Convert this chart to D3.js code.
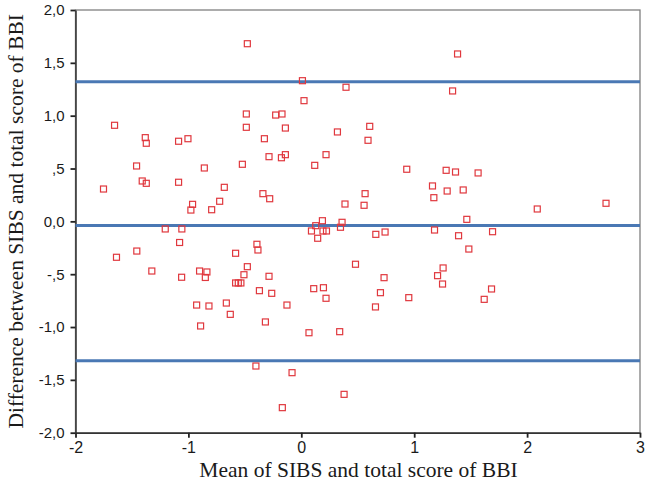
<!DOCTYPE html>
<html>
<head>
<meta charset="utf-8">
<script src="https://cdn.jsdelivr.net/npm/d3@7"></script>
<style>
  html, body { margin: 0; padding: 0; background: #fff; }
  svg { display: block; }
</style>
</head>
<body>
<svg id="chart" width="645" height="488"></svg>
<script>
// ---- data ----
const meanValues = [
  -1.654, -1.382, -1.373, -1.087, -1.004, -1.459, -0.859, -1.752, -1.409, -1.373,
  -1.087, -0.963, -0.978, -0.794, -0.723, -1.205, -1.058, -1.078, -1.457, -1.637,
  -1.324, -1.060, -0.901, -0.836, -0.850, -0.927, -0.818, -0.892,
  -0.478, 0.010, 0.396, 0.024, -0.487, -0.227, -0.171, -0.487, -0.141, -0.327,
  0.320, 0.606, 0.591, -0.286, -0.141, -0.176, 0.219, 0.119, -0.522, 0.934,
  -0.682, -0.340, -0.280, 0.565, 0.387, 0.556,
  0.187, 0.128, 0.090, 0.192, 0.223, 0.145, 0.361, 0.347, 0.660, 0.742,
  -0.393, -0.384, -0.582, -0.478, -0.508, 0.480, 0.733, -0.286, -0.582, -0.558,
  -0.535, -0.371, -0.262, 0.110, 0.196, 0.219, 0.701, 0.657, 0.952, -0.127,
  -0.664, -0.629, -0.318, 0.068, 0.340, -0.402, -0.082, 0.379, -0.168,
  1.384, 1.340, 1.283, 1.366, 1.566, 1.162, 1.174, 1.292, 1.434, 2.090,
  2.699, 1.466, 1.180, 1.393, 1.694, 1.484, 1.256, 1.207, 1.251, 1.685, 1.620
];
const diffValues = [
  0.909, 0.792, 0.739, 0.758, 0.782, 0.524, 0.505, 0.306, 0.382, 0.360,
  0.370, 0.161, 0.107, 0.110, 0.190, -0.072, -0.072, -0.200, -0.281, -0.340,
  -0.470, -0.529, -0.470, -0.479, -0.531, -0.792, -0.801, -0.990,
  1.681, 1.331, 1.269, 1.142, 1.016, 1.006, 1.016, 0.890, 0.883, 0.782,
  0.846, 0.899, 0.767, 0.612, 0.631, 0.602, 0.631, 0.530, 0.540, 0.493,
  0.322, 0.262, 0.214, 0.262, 0.164, 0.152,
  0.006, -0.041, -0.091, -0.091, -0.091, -0.160, -0.009, -0.056, -0.123, -0.101,
  -0.217, -0.271, -0.302, -0.429, -0.505, -0.406, -0.533, -0.520, -0.583, -0.583,
  -0.583, -0.656, -0.681, -0.637, -0.628, -0.728, -0.675, -0.810, -0.722, -0.792,
  -0.773, -0.880, -0.952, -1.054, -1.044, -1.369, -1.432, -1.637, -1.763,
  1.584, 1.234, 0.483, 0.467, 0.458, 0.335, 0.224, 0.287, 0.297, 0.117,
  0.171, 0.019, -0.082, -0.136, -0.098, -0.262, -0.441, -0.514, -0.593, -0.640, -0.738
];
const referenceLines = [1.32, -0.04, -1.32];   // upper LoA, mean diff, lower LoA
const xTicks = [-2, -1, 0, 1, 2, 3];
const xTickLabels = ["-2", "-1", "0", "1", "2", "3"];
const yTicks = [2, 1.5, 1, 0.5, 0, -0.5, -1, -1.5, -2];
const yTickLabels = ["2,0", "1,5", "1,0", ",5", "0,0", "-,5", "-1,0", "-1,5", "-2,0"];
const xTitle = "Mean of SIBS and total score of BBI";
const yTitle = "Difference between SIBS and total score of BBI";

// ---- layout ----
const L = 75.5, R = 640, T = 10, B = 432.7;
const svg = d3.select("#chart");
const x = d3.scaleLinear().domain([-2, 3]).range([L, R]);
const y = d3.scaleLinear().domain([-2, 2]).range([B, T]);

// frame (top & right)
svg.append("rect")
  .attr("x", L).attr("y", T).attr("width", R - L).attr("height", B - T)
  .attr("fill", "none").attr("stroke", "#808080").attr("stroke-width", 1.3);

// axes
const xAxis = d3.axisBottom(x).tickValues(xTicks)
  .tickFormat((d, i) => xTickLabels[i]).tickSizeInner(5).tickSizeOuter(0).tickPadding(4);
const yAxis = d3.axisLeft(y).tickValues(yTicks)
  .tickFormat((d, i) => yTickLabels[i]).tickSizeInner(5).tickSizeOuter(0).tickPadding(6);

const gx = svg.append("g").attr("transform", `translate(0,${B})`).call(xAxis);
const gy = svg.append("g").attr("transform", `translate(${L},0)`).call(yAxis);
[gx, gy].forEach(g => {
  g.select(".domain").attr("stroke", "#333").attr("stroke-width", 1.5);
  g.selectAll(".tick line").attr("stroke", "#222").attr("stroke-width", 1.8);
  g.selectAll(".tick text")
    .attr("fill", "#1a1a1a")
    .style("font-family", "'Liberation Sans', Arial, sans-serif");
});
gy.selectAll(".tick text").style("font-size", "15px");
gx.selectAll(".tick text").style("font-size", "16px");

// reference lines
svg.append("g").selectAll("line").data(referenceLines).join("line")
  .attr("x1", L).attr("x2", R)
  .attr("y1", d => y(d)).attr("y2", d => y(d))
  .attr("stroke", "#4a78b4").attr("stroke-width", 3);

// points
const pts = meanValues.map((m, i) => ({ m, d: diffValues[i] }));
const s = 6;
svg.append("g").selectAll("rect").data(pts).join("rect")
  .attr("x", p => x(p.m) - s / 2).attr("y", p => y(p.d) - s / 2)
  .attr("width", s).attr("height", s)
  .attr("fill", "none").attr("stroke", "#e0383e").attr("stroke-width", 1.2);

// titles
svg.append("text")
  .attr("x", 358.5).attr("y", 477)
  .attr("text-anchor", "middle")
  .style("font-family", "'Liberation Serif', 'Times New Roman', serif")
  .style("font-size", "21.5px").attr("fill", "#1a1a1a")
  .text(xTitle);

svg.append("text")
  .attr("transform", `translate(23,${(T + B) / 2}) rotate(-90)`)
  .attr("text-anchor", "middle")
  .style("font-family", "'Liberation Serif', 'Times New Roman', serif")
  .style("font-size", "21.5px").attr("fill", "#1a1a1a")
  .text(yTitle);
</script>
</body>
</html>
